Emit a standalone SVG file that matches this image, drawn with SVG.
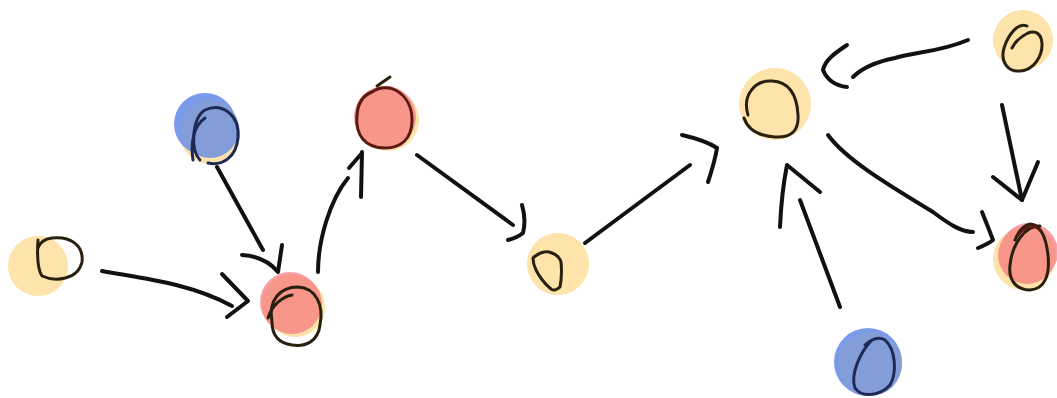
<svg xmlns="http://www.w3.org/2000/svg" width="1057" height="398" viewBox="0 0 1057 398">
<style>
.y{fill:#FEE3AA}
.r{fill:#F8968A}
.b{fill:#839DD8}
.loop{fill:none;stroke:#2a2010;stroke-width:3;stroke-linecap:round;stroke-linejoin:round}
.c{fill:none;stroke:#111;stroke-width:4;stroke-linecap:round;stroke-linejoin:round}
</style>
<rect width="1057" height="398" fill="#fff"/>
<g id="connectors">
<path class="c" d="M102,271 C140,278 190,283 232,306"/>
<path class="c" d="M222,274 L248,301 L227,317"/>
<path class="c" d="M217,167 L263,250"/>
<path class="c" d="M242,255 C258,256 270,262 278,272 L282,245"/>
<path class="c" d="M318,272 C318,240 330,200 348,178"/>
<path class="c" d="M362,152 L361,197 M349,168 L362,153"/>
<path class="c" d="M417,155 L513,225"/>
<path class="c" d="M522,205 C525,215 525,225 523,233 C518,237 512,239 508,240"/>
<path class="c" d="M585,243 L690,165"/>
<path class="c" d="M682,135 C695,138 708,142 717,148 C715,160 712,170 708,182"/>
<path class="c" d="M968,40 C940,52 915,52 895,58 C875,62 862,68 853,77"/>
<path class="c" d="M847,45 C835,53 825,60 823,70 C828,82 838,86 847,87"/>
<path class="c" d="M828,135 C845,158 880,180 933,212 C950,225 962,232 973,232"/>
<path class="c" d="M982,212 C986,222 990,232 993,240 C988,244 983,246 978,248"/>
<path class="c" d="M1002,105 L1022,200"/>
<path class="c" d="M993,177 L1022,200 L1038,162"/>
<path class="c" d="M840,307 L800,200"/>
<path class="c" d="M780,227 C781,205 783,185 787,165 L820,192"/>
</g>
<g id="nodeA">
<circle class="y" cx="38" cy="266" r="30"/>
<path class="loop" d="M38,240 C37,255 38,270 42,276 C55,282 78,280 82,262 C84,245 70,236 52,238 C44,239 40,242 38,248"/>
</g>
<g id="nodeB">
<circle class="y" cx="210" cy="134" r="30"/>
<circle cx="205" cy="124" r="31" fill="#7A9BEA"/>
<circle class="b" cx="210" cy="129" r="29"/>
<path class="loop" style="stroke:#1e2a55" d="M200,160 C190,150 192,118 205,110 C222,102 240,115 238,138 C236,158 222,166 208,163"/>
<path class="loop" style="stroke:#1e2a55" d="M193,160 C190,140 195,125 205,118"/>
</g>
<g id="nodeC">
<circle class="y" cx="295" cy="307" r="30"/>
<circle cx="290" cy="302" r="30" fill="#F7A0A8"/>
<circle class="r" cx="292" cy="304" r="30"/>
<path class="loop" d="M272,322 C268,300 280,287 298,287 C316,288 324,305 320,325 C318,342 305,347 292,345 C278,343 272,335 272,322"/>
<path class="loop" d="M268,318 C272,305 282,297 292,295"/>
</g>
<g id="nodeD">
<circle class="y" cx="388" cy="120" r="31"/>
<circle class="r" cx="385" cy="117" r="31"/>
<path class="loop" style="stroke:#5a1a14" d="M372,92 C390,80 412,95 412,120 C412,140 400,148 385,148 C365,148 355,135 357,115 C358,102 364,95 372,92"/>
<path class="loop" d="M377,86 L390,77"/>
</g>
<g id="nodeE">
<circle class="y" cx="558" cy="264" r="31"/>
<path class="loop" d="M533,258 C538,253 545,251 549,252 C556,254 560,258 561,262 C562,272 561,282 560,287 C557,290 553,291 551,289 C545,284 540,278 536,270 C534,266 533,262 533,258"/>
</g>
<g id="nodeF">
<circle class="y" cx="775" cy="104" r="36"/>
<path class="loop" d="M748,115 C742,95 755,80 772,81 C790,82 797,95 798,115 C799,130 792,138 775,137 C760,136 748,130 744,118"/>
</g>
<g id="nodeG">
<circle class="y" cx="1023" cy="40" r="30"/>
<path class="loop" d="M1027,26 C1018,22 1008,35 1004,48 C1000,62 1008,72 1020,71 C1035,70 1042,55 1042,45 C1042,34 1036,30 1028,33 C1020,37 1015,42 1012,48"/>
</g>
<g id="nodeH">
<circle class="y" cx="1024" cy="259" r="31"/>
<circle cx="1029" cy="252" r="29" fill="#F7A0A8"/>
<circle class="r" cx="1027" cy="255" r="29"/>
<path class="loop" d="M1040,226 C1025,225 1012,245 1010,265 C1008,282 1018,290 1030,290 C1045,289 1050,275 1048,255 C1046,237 1040,225 1030,224 C1022,226 1018,232 1015,240"/>
<path class="loop" style="stroke:#5a1a14" d="M1018,235 C1025,226 1035,224 1040,230"/>
</g>
<g id="nodeI">
<circle cx="868" cy="362" r="34" fill="#7A9BEA"/>
<circle class="b" cx="870" cy="364" r="32"/>
<path class="loop" style="stroke:#1e2a55" d="M872,340 C860,352 850,375 855,388 C862,398 880,396 890,385 C897,373 896,350 885,340 C878,336 870,340 865,345"/>
</g>
</svg>
